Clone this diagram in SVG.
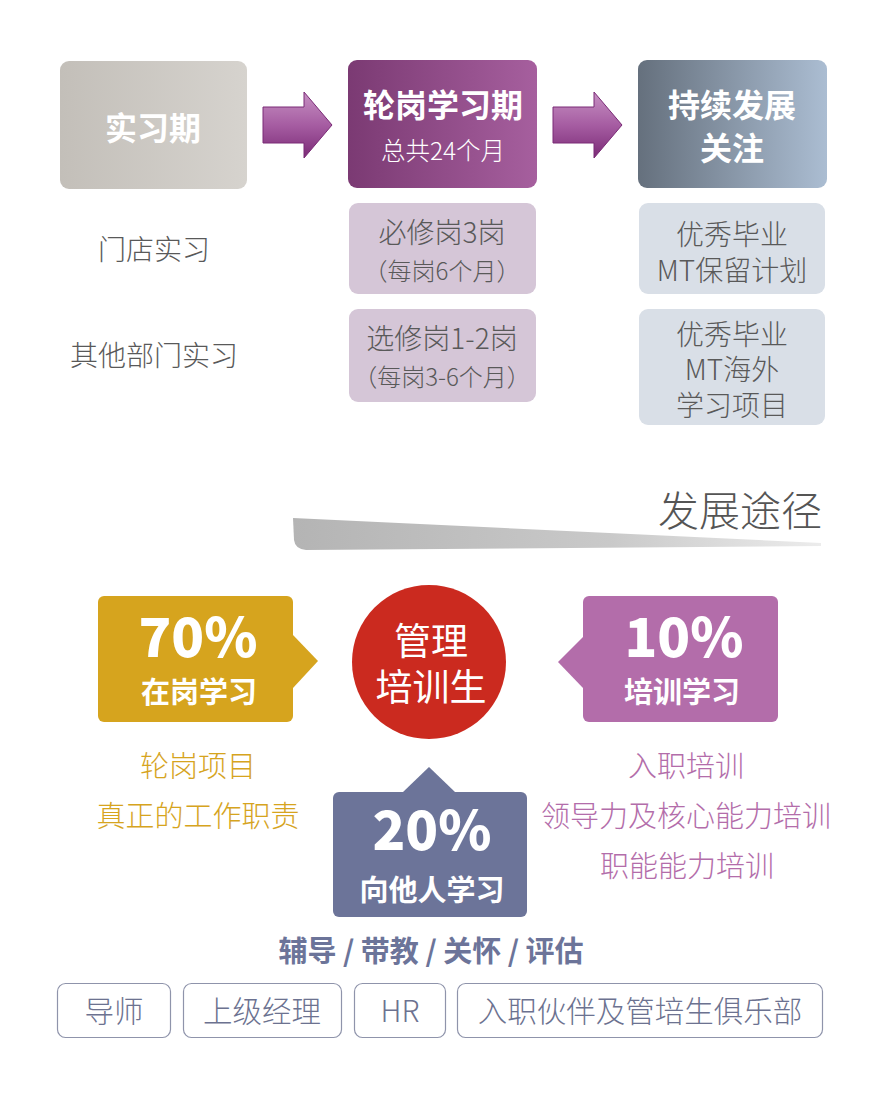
<svg xmlns="http://www.w3.org/2000/svg" width="886" height="1098" viewBox="0 0 886 1098">
<defs>
<linearGradient id="gGray" x1="0" y1="0" x2="1" y2="0"><stop offset="0" stop-color="#c3bfb9"/><stop offset="1" stop-color="#d6d3ce"/></linearGradient>
<linearGradient id="gPurple" x1="0" y1="0" x2="1" y2="0"><stop offset="0" stop-color="#7b3a73"/><stop offset="1" stop-color="#a65f9e"/></linearGradient>
<linearGradient id="gSlate" x1="0" y1="0" x2="1" y2="0"><stop offset="0" stop-color="#65707d"/><stop offset="1" stop-color="#abbdd2"/></linearGradient>
<linearGradient id="gArrow" x1="0" y1="0" x2="0" y2="1"><stop offset="0" stop-color="#c690c2"/><stop offset="0.5" stop-color="#a65da2"/><stop offset="1" stop-color="#7a2a76"/></linearGradient>
<linearGradient id="gWedge" x1="0" y1="0" x2="1" y2="0"><stop offset="0" stop-color="#b4b4b4"/><stop offset="0.6" stop-color="#c9c9c9"/><stop offset="1" stop-color="#ececec"/></linearGradient>
<style>
text{font-family:"Noto Sans CJK SC","Liberation Sans",sans-serif;text-anchor:middle}
.hd{fill:#fff;font-weight:bold;font-size:32px}
.lt{fill:#595959;font-size:28px;font-weight:300}
.sm{fill:#595959;font-size:24px;font-weight:300}
.pct{fill:#fff;font-weight:900;font-size:54px}
.pl{fill:#fff;font-weight:bold;font-size:29px}
.yl{fill:#d6a41e;font-size:29px;font-weight:300}
.pu{fill:#b36daa;font-size:29px;font-weight:300}
.tag{fill:none;stroke:#8f94ab;stroke-width:1.2}
.tt{fill:#6c7290;font-size:29.5px;font-weight:300}
.arr{fill:url(#gArrow);stroke:#7a2a76;stroke-width:1}
</style>
</defs>

<g id="stage-intern">
<rect x="60" y="61" width="187" height="128" rx="9" fill="url(#gGray)"/>
<text class="hd" x="153" y="140">实习期</text>
</g>
<g id="stage-rotation">
<rect x="348" y="60" width="189" height="128" rx="9" fill="url(#gPurple)"/>
<text class="hd" x="443" y="117">轮岗学习期</text>
<text x="443" y="160" fill="#fff" font-size="24.5" font-weight="300">总共24个月</text>
</g>
<g id="stage-dev">
<rect x="638" y="60" width="189" height="128" rx="9" fill="url(#gSlate)"/>
<text class="hd" x="732" y="117">持续发展</text>
<text class="hd" x="732" y="160">关注</text>
</g>

<g id="connectors">
<polygon class="arr" points="263,107 304,107 304,92 332,125 304,158 304,143 263,143"/>
<polygon class="arr" points="553,107 594,107 594,92 622,125 594,158 594,143 553,143"/>
<polygon fill="#d6a41e" points="293,635 318,661 293,688"/>
<polygon fill="#b36daa" points="583,637 558,662 583,688"/>
<polygon fill="#6c7499" points="403,792 429,767 455,792"/>
</g>

<g id="label-store"><text class="lt" x="154" y="260">门店实习</text></g>
<g id="label-other"><text class="lt" x="154" y="366">其他部门实习</text></g>

<g id="req">
<rect x="349" y="203" width="187" height="91" rx="9" fill="#d5c6d7"/>
<text class="lt" x="442" y="243">必修岗3岗</text>
<text class="sm" x="442" y="280">（每岗6个月）</text>
</g>
<g id="elec">
<rect x="349" y="309" width="187" height="93" rx="9" fill="#d5c6d7"/>
<text class="lt" x="442" y="349">选修岗1-2岗</text>
<text class="sm" x="442" y="386">（每岗3-6个月）</text>
</g>
<g id="retain">
<rect x="639" y="203" width="186" height="91" rx="9" fill="#d9dfe7"/>
<text class="lt" x="732" y="245">优秀毕业</text>
<text class="lt" x="732" y="281">MT保留计划</text>
</g>
<g id="overseas">
<rect x="639" y="309" width="186" height="116" rx="9" fill="#d9dfe7"/>
<text class="lt" x="732" y="345">优秀毕业</text>
<text class="lt" x="732" y="380">MT海外</text>
<text class="lt" x="732" y="416">学习项目</text>
</g>

<g id="title">
<path d="M293,518 L821,543 L821,546 L306,550 Q295,549 294,540 Z" fill="url(#gWedge)"/>
<text x="740" y="526" fill="#555" font-size="41" font-weight="300">发展途径</text>
</g>

<g id="p70">
<rect x="98" y="596" width="195" height="126" rx="6" fill="#d6a41e"/>
<text class="pct" x="198" y="657">70%</text>
<text class="pl" x="199" y="703">在岗学习</text>
</g>
<g id="center">
<circle cx="429" cy="662" r="77" fill="#cb2a1f"/>
<text x="431" y="655" fill="#fff" font-size="37">管理</text>
<text x="431" y="701" fill="#fff" font-size="37">培训生</text>
</g>
<g id="p10">
<rect x="583" y="596" width="195" height="126" rx="6" fill="#b36daa"/>
<text class="pct" x="684" y="657">10%</text>
<text class="pl" x="682" y="703">培训学习</text>
</g>
<g id="p20">
<rect x="333" y="792" width="194" height="125" rx="6" fill="#6c7499"/>
<text class="pct" x="432" y="850">20%</text>
<text class="pl" x="432" y="901">向他人学习</text>
</g>

<g id="left-items">
<text class="yl" x="198" y="777">轮岗项目</text>
<text class="yl" x="198" y="827">真正的工作职责</text>
</g>
<g id="right-items">
<text class="pu" x="686" y="777">入职培训</text>
<text class="pu" x="686" y="827">领导力及核心能力培训</text>
<text class="pu" x="687" y="877">职能能力培训</text>
</g>

<g id="support">
<text x="431" y="962" fill="#6c7499" font-size="29" font-weight="bold">辅导 / 带教 / 关怀 / 评估</text>
</g>
<g id="tag-mentor"><rect class="tag" x="57.5" y="983.5" width="113" height="54" rx="8"/><text class="tt" x="114" y="1022">导师</text></g>
<g id="tag-mgr"><rect class="tag" x="183.5" y="983.5" width="158" height="54" rx="8"/><text class="tt" x="262" y="1022">上级经理</text></g>
<g id="tag-hr"><rect class="tag" x="354.5" y="983.5" width="91" height="54" rx="8"/><text class="tt" x="400" y="1022">HR</text></g>
<g id="tag-club"><rect class="tag" x="457.5" y="983.5" width="365" height="54" rx="8"/><text class="tt" x="640" y="1022">入职伙伴及管培生俱乐部</text></g>
</svg>
